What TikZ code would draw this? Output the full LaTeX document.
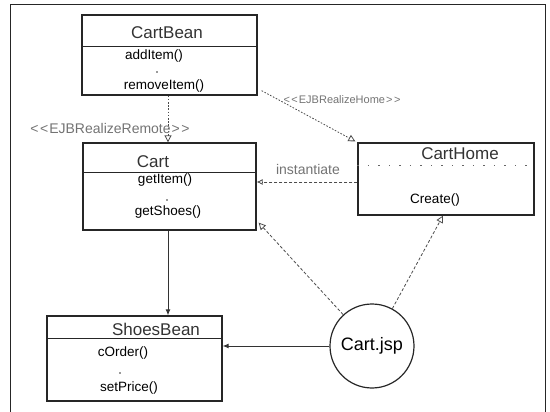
\documentclass[tikz,border=0pt]{standalone}
\usepackage{fontspec}
\setmainfont{Liberation Sans}
\usetikzlibrary{arrows.meta}
\newcommand{\lstereo}{<\kern1.5pt<\kern1pt}
\newcommand{\rstereo}{\kern1pt>\kern1.5pt>}
\begin{document}
\begin{tikzpicture}[x=1pt,y=-1pt,
  classbox/.style={draw=black!85, line width=1.3pt, inner sep=0pt},
  divider/.style={draw=black!85, line width=1.2pt},
  title/.style={font=\fontsize{17}{20}\selectfont, text=black!80, inner sep=0pt},
  method/.style={font=\fontsize{13.5}{16}\selectfont, text=black, inner sep=0pt},
  stereo/.style={text=black!55, inner sep=0pt},
  realize/.style={draw=black!70, line width=0.8pt, dash pattern=on 1.6pt off 1.6pt,
    -{Triangle[open,length=7pt,width=7pt]}},
  depend/.style={draw=black!70, line width=0.8pt, dash pattern=on 3pt off 2pt,
    -{Triangle[open,length=7pt,width=7pt]}},
  assoc/.style={draw=black!80, line width=0.9pt, -{Latex[length=6pt,width=5pt]}},
  jspstyle/.style={draw=black!85, circle, line width=1.2pt, minimum size=84pt,
    inner sep=0pt, font=\fontsize{18}{20}\selectfont}
]
\useasboundingbox (0,0) rectangle (550,412);

% open frame
\draw[line width=1pt, black!85] (10,412) -- (10,5) -- (545,5) -- (545,412);

% CartBean
\node[classbox, minimum width=175pt, minimum height=80pt] (cartbean) at (169.5,55) {};
\draw[divider] ([yshift=-32pt]cartbean.north west) -- ([yshift=-32pt]cartbean.north east);
\node[title] (cbtitle) at (167,33) {CartBean};
\node[method] (cbadd) at (154,56) {addItem()};
\fill[black!80] (157,72) circle (0.8pt);
\node[method] (cbremove) at (164,86) {removeItem()};

% Cart
\node[classbox, minimum width=173pt, minimum height=87pt] (cart) at (169.5,186.5) {};
\draw[divider] ([yshift=-30pt]cart.north west) -- ([yshift=-30pt]cart.north east);
\node[title] (ctitle) at (153,162) {Cart};
\node[method] (cget) at (165,180) {getItem()};
\fill[black!80] (167,200) circle (0.8pt);
\node[method] (cshoes) at (168,212) {getShoes()};

% CartHome
\node[classbox, minimum width=176pt, minimum height=72pt] (carthome) at (446,179) {};
\draw[draw=black!60, line width=0.9pt, dash pattern=on 1.5pt off 9pt]
  ([yshift=-23pt]carthome.north west) -- ([yshift=-23pt]carthome.north east);
\node[title] (chtitle) at (460,154) {CartHome};
\node[method] (chcreate) at (435,200) {Create()};

% ShoesBean
\node[classbox, minimum width=175pt, minimum height=85pt] (shoes) at (134.5,358.5) {};
\draw[divider] ([yshift=-23pt]shoes.north west) -- ([yshift=-23pt]shoes.north east);
\node[title] (sbtitle) at (156,329) {ShoesBean};
\node[method] (sborder) at (123,353) {cOrder()};
\fill[black!80] (120,373) circle (0.8pt);
\node[method] (sbprice) at (129,388) {setPrice()};

% JSP page
\node[jspstyle] (jsp) at (372,346) {Cart.jsp};

% realizations
\draw[realize] (cartbean.south -| 168,0) -- (cart.north -| 168,0);
\node[stereo, font=\fontsize{14}{16}\selectfont] (remote) at (110,128)
  {\lstereo EJBRealizeRemote\rstereo};
\draw[realize] ([shift={(4pt,5pt)}]cartbean.south east) -- ([shift={(-2pt,1pt)}]carthome.north west);
\node[stereo, font=\fontsize{11}{13}\selectfont] (home) at (342,100)
  {\lstereo EJBRealizeHome\rstereo};

% instantiate dependency
\coordinate (inst) at ([yshift=-3pt]carthome.west);
\draw[draw=black!70, line width=0.8pt, dash pattern=on 3pt off 2pt,
  -{Latex[open,length=6pt,width=6pt]}] (inst) -- (inst -| cart.east);
\node[stereo, font=\fontsize{14}{16}\selectfont] (instlbl) at (308,169) {instantiate};

% JSP dependencies
\draw[depend] (jsp) -- ([shift={(2pt,8pt)}]cart.south east);
\draw[depend] (jsp) -- ([xshift=-3pt]carthome.south);

% associations
\draw[assoc] (cart.south -| 168,0) -- (shoes.north -| 168,0);
\draw[assoc] (jsp.west) -- (jsp.west -| shoes.east);
\end{tikzpicture}
\end{document}
